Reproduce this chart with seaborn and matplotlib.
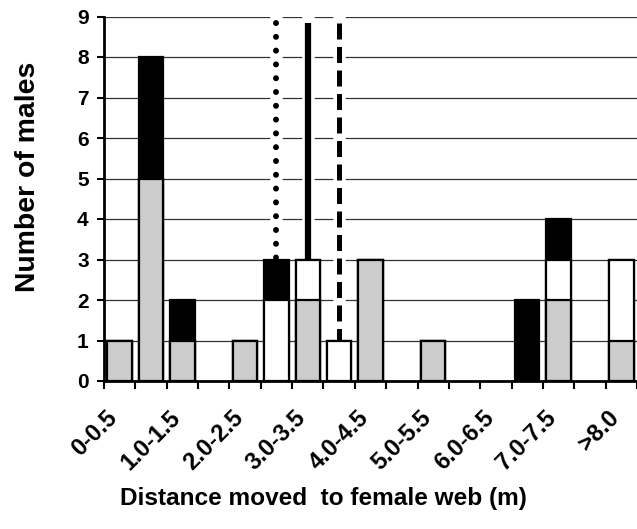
import numpy as np
import pandas as pd
import matplotlib
matplotlib.use("Agg")
import matplotlib.pyplot as plt
import matplotlib.transforms as mtransforms
import seaborn as sns

# ---- data ----
categories = ["0-0.5", "0.5-1.0", "1.0-1.5", "1.5-2.0", "2.0-2.5", "2.5-3.0",
              "3.0-3.5", "3.5-4.0", "4.0-4.5", "4.5-5.0", "5.0-5.5", "5.5-6.0",
              "6.0-6.5", "6.5-7.0", "7.0-7.5", "7.5-8.0", ">8.0"]
gray_vals = [1, 5, 1, 0, 1, 0, 2, 0, 3, 0, 1, 0, 0, 0, 2, 0, 1]
white_vals = [0, 0, 0, 0, 0, 2, 1, 1, 0, 0, 0, 0, 0, 0, 1, 0, 2]
black_vals = [0, 3, 1, 0, 0, 1, 0, 0, 0, 0, 0, 0, 0, 2, 1, 0, 0]
yticks = [0, 1, 2, 3, 4, 5, 6, 7, 8, 9]
line_cats = ["2.5-3.0", "3.0-3.5", "3.5-4.0"]   # dotted, solid, dashed
ylabel = "Number of males"
xlabel = "Distance moved  to female web (m)"

sns.set_style("white")
plt.rcParams["font.family"] = ["Liberation Sans", "DejaVu Sans"]
plt.rcParams["font.weight"] = "bold"
for k in ["text.color", "axes.labelcolor", "xtick.color", "ytick.color"]:
    plt.rcParams[k] = "black"

df = pd.DataFrame({"cat": categories, "gray": gray_vals,
                   "white": white_vals, "black": black_vals})
df["lvl1"] = df["gray"]
df["lvl2"] = df["gray"] + df["white"]
df["lvl3"] = df["lvl2"] + df["black"]

fig = plt.figure(figsize=(6.37, 5.29), dpi=100)
ax = fig.add_axes([104 / 637, 148 / 529, 533 / 637, 364.5 / 529])

# vertical reference lines (behind bars)
styles = [dict(linestyle=(0, (0.01, 2.3)), lw=4.3, dash_capstyle="round"),
          dict(linestyle="-", lw=4.5, solid_capstyle="butt"),
          dict(linestyle=(0, (3.2, 1.5)), lw=3.6, dash_capstyle="butt")]
for cat, st in zip(line_cats, styles):
    xp = categories.index(cat)
    ax.plot([xp, xp], [9.08, 0], color="white", lw=9, zorder=0.7,
            solid_capstyle="butt", clip_on=False)
    ax.plot([xp, xp], [8.85, 0], color="black", zorder=0.8, clip_on=False, **st)

bar_kw = dict(order=categories, edgecolor="black", linewidth=1.6, width=0.78,
              ax=ax, zorder=2)
sns.barplot(data=df, x="cat", y="lvl3", color="black", saturation=1, **bar_kw)
sns.barplot(data=df, x="cat", y="lvl2", color="white", saturation=1, **bar_kw)
sns.barplot(data=df, x="cat", y="lvl1", color="#cccccc", saturation=1, **bar_kw)
for p in list(ax.patches):
    if p.get_height() == 0:
        p.set_visible(False)

ax.set_xlim(-0.5, -0.5 + 533 / 31.75)
ax.set_ylim(0, 9)
ax.set_yticks(yticks)
ax.set_yticklabels([str(v) for v in yticks], fontsize=15, fontweight="bold")
ax.yaxis.grid(True, color="#333333", linewidth=0.9)
ax.set_axisbelow(True)

ax.set_xticks(np.arange(-0.5, len(categories), 1))
ax.set_xticklabels([])
ax.set_xticks(np.arange(0, len(categories), 2), minor=True)
ax.set_xticklabels([categories[i] for i in range(0, len(categories), 2)],
                   minor=True, rotation=45, ha="right", va="top",
                   rotation_mode="anchor", fontsize=17, fontweight="bold")
ax.tick_params(axis="x", which="major", length=6, width=1.5, direction="out",
               bottom=True, color="black")
ax.tick_params(axis="x", which="minor", length=0, pad=18)
ax.tick_params(axis="y", length=5, width=1.5, direction="out", left=True,
               pad=6, color="black")
offset = mtransforms.ScaledTranslation(-10 / 72, 0, fig.dpi_scale_trans)
for lab in ax.get_xticklabels(minor=True):
    lab.set_transform(lab.get_transform() + offset)

ax.set_xlabel("")
ax.set_ylabel("")
for s in ["top", "right"]:
    ax.spines[s].set_visible(False)
for s in ["left", "bottom"]:
    ax.spines[s].set_linewidth(2)
    ax.spines[s].set_color("black")
    ax.spines[s].set_zorder(3)

fig.text(323 / 637, 1 - 499 / 529, xlabel, ha="center", va="center",
         fontsize=17.6, fontweight="bold")
fig.text(28 / 637, 1 - 177 / 529, ylabel, ha="center", va="center",
         rotation=90, fontsize=20.4, fontweight="bold")

fig.savefig("out.png", dpi=100)
